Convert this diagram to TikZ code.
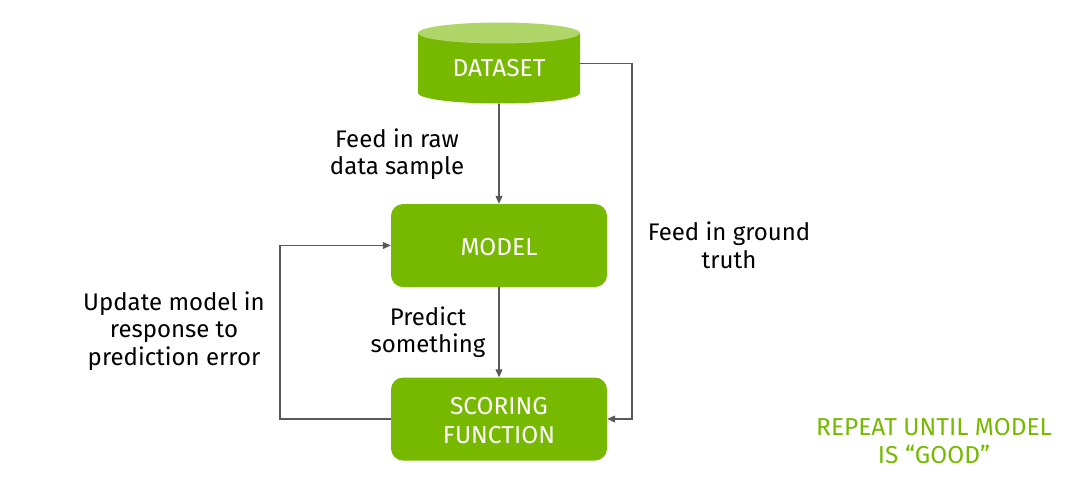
\documentclass[tikz,border=0pt]{standalone}
\usepackage{fontspec}
\setmainfont{Fira Sans}
\definecolor{nvgreen}{HTML}{76B900}
\definecolor{nvlightgreen}{HTML}{B0D66A}
\definecolor{linegray}{HTML}{595959}
\usetikzlibrary{arrows.meta, positioning}

\begin{document}
\begin{tikzpicture}[x=1pt, y=-1pt,
    greenbox/.style={fill=nvgreen, rounded corners=12pt, minimum width=216pt,
      minimum height=83pt, align=center, text=white, font=\fontsize{24.5}{29}\selectfont},
    note/.style={align=center, font=\fontsize{24}{27.5}\selectfont},
    link/.style={draw=linegray, line width=1.1pt, -{Triangle[length=8pt, width=7pt]}}]
    \useasboundingbox (0,0) rectangle (1073,477);
    % Data store drawn as a cylinder
    \fill[nvgreen] (418,33) -- (418,93)
      arc[start angle=180, end angle=0, x radius=81, y radius=10.5] -- (580,33) -- cycle;
    \fill[nvlightgreen] (499,33) ellipse[x radius=81, y radius=10.5];
    \node[minimum width=162pt, minimum height=81pt, inner sep=0pt, text=white,
      font=\fontsize{24.5}{29}\selectfont] (data) at (499,63.5)
      {\raisebox{-5pt}[\height][\depth]{DATASET}};
    % Boxes
    \node[greenbox] (model) at (499,245.5) {\raisebox{-2pt}[\height][\depth]{MODEL}};
    \node[greenbox] (score) at (499,419)
      {\raisebox{-2pt}[\height][\depth]{SCORING}\\\raisebox{-2pt}[\height][\depth]{FUNCTION}};
    % Bends
    \coordinate (rightbend) at (632,419);
    \coordinate (leftbend) at (280,419);
    % Connectors
    \draw[link] (data) -- (model);
    \draw[link] (model) -- (score);
    \draw[link] (data.east) -| (rightbend) -- (score.east);
    \draw[link] (score.west) -- (leftbend) |- (model.west);
    % Labels
    \node[note] (rawlabel) at (397,154) {Feed in raw\\data sample};
    \node[note] (truthlabel) at (729,245.5) {Feed in ground\\truth};
    \node[note] (updatelabel) at (174,331) {Update model in\\response to\\prediction error};
    \node[note] (predictlabel) at (428,332) {Predict\\something};
    \node[note, text=nvgreen, font=\fontsize{24.5}{27.5}\selectfont] (repeatlabel)
      at (934,441) {REPEAT UNTIL MODEL\\IS “GOOD”};
  \end{tikzpicture}
\end{document}
